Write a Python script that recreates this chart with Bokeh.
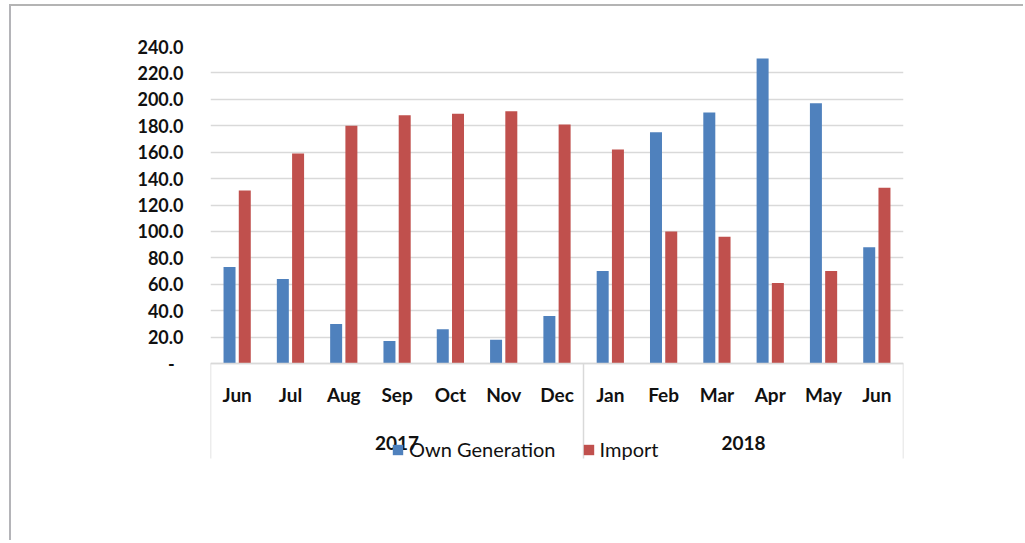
from bokeh.plotting import figure
from bokeh.models import (Range1d, FixedTicker, LinearAxis, CustomJSTickFormatter,
                          Legend, LegendItem, ColumnDataSource)
from bokeh.transform import dodge
from bokeh.embed import file_html
from bokeh.resources import INLINE

# ---- data ----
months = ["Jun", "Jul", "Aug", "Sep", "Oct", "Nov", "Dec",
          "Jan", "Feb", "Mar", "Apr", "May", "Jun"]
years = ["2017", "2018"]
year_month_counts = [7, 6]
own_generation = [73, 64, 30, 17, 26, 18, 36, 70, 175, 190, 231, 197, 88]
imports = [131, 159, 180, 188, 189, 191, 181, 162, 100, 96, 61, 70, 133]
y_ticks = [0, 20, 40, 60, 80, 100, 120, 140, 160, 180, 200, 220, 240]

BLUE = "#4F81BD"
RED = "#C0504D"
GRID = "#d9d9d9"
FONT = "Lato"
TXT = "#111111"

n = len(months)
x_pos = [i + 0.5 for i in range(n)]
src = ColumnDataSource(dict(x=x_pos, own=own_generation, imp=imports))

bounds = [0]
for c in year_month_counts:
    bounds.append(bounds[-1] + c)
year_centers = [(bounds[i] + bounds[i + 1]) / 2 for i in range(len(years))]

# frame extends below zero so the legend (drawn in the frame) can sit under the axis
p = figure(frame_width=693, frame_height=424,
           x_range=Range1d(0, n), y_range=Range1d(-81, 240),
           output_backend="svg", toolbar_location=None,
           min_border_left=199, min_border_top=40,
           min_border_right=120, min_border_bottom=70,
           x_axis_location=None, y_axis_location=None)
p.outline_line_color = None
p.background_fill_color = "white"
p.border_fill_color = "white"
p.styles = {"margin-left": "9px", "margin-top": "4px",
            "border-top": "2px solid #b4b4b4", "border-left": "2px solid #b4b4b8"}

bw = 0.225
r1 = p.vbar(x=dodge("x", -0.143), top="own", width=bw, source=src,
            fill_color=BLUE, line_color=None)
r2 = p.vbar(x=dodge("x", 0.143), top="imp", width=bw, source=src,
            fill_color=RED, line_color=None)

# y axis
yax = LinearAxis(ticker=FixedTicker(ticks=y_ticks, minor_ticks=[]),
                 formatter=CustomJSTickFormatter(
                     code="return tick == 0 ? '-\\u00a0\\u00a0' : tick.toFixed(1);"))
yax.axis_line_color = None
yax.major_tick_line_color = None
yax.minor_tick_line_color = None
yax.major_label_standoff = 21
yax.major_label_text_font = FONT
yax.major_label_text_font_style = "bold"
yax.major_label_text_font_size = "18px"
yax.major_label_text_color = TXT
p.add_layout(yax, "left")

p.ygrid.ticker = FixedTicker(ticks=y_ticks)
p.ygrid.grid_line_color = GRID
p.ygrid.grid_line_width = 1.5
p.xgrid.grid_line_color = None

# month axis at zero; group separators drawn as long outward minor ticks
mx = LinearAxis(ticker=FixedTicker(ticks=x_pos, minor_ticks=bounds),
                major_label_overrides={x: m for x, m in zip(x_pos, months)},
                fixed_location=0)
mx.axis_line_color = GRID
mx.axis_line_width = 1.5
mx.major_tick_line_color = None
mx.minor_tick_line_color = GRID
mx.minor_tick_line_width = 1.5
mx.minor_tick_in = -95
mx.minor_tick_out = 0
mx.major_label_standoff = 13
mx.major_label_text_font = FONT
mx.major_label_text_font_style = "bold"
mx.major_label_text_font_size = "19px"
mx.major_label_text_color = TXT
p.add_layout(mx, "below")

# year axis
yrax = LinearAxis(ticker=FixedTicker(ticks=year_centers, minor_ticks=[]),
                  major_label_overrides={c: y for c, y in zip(year_centers, years)},
                  fixed_location=-48.5)
yrax.axis_line_color = None
yrax.major_tick_line_color = None
yrax.minor_tick_line_color = None
yrax.major_label_standoff = 2
yrax.major_label_text_font = FONT
yrax.major_label_text_font_style = "bold"
yrax.major_label_text_font_size = "19px"
yrax.major_label_text_color = TXT
p.add_layout(yrax, "below")

legend = Legend(items=[LegendItem(label="Own Generation", renderers=[r1]),
                       LegendItem(label="Import", renderers=[r2])],
                location=(181, 9), orientation="horizontal",
                glyph_width=13, glyph_height=13, label_standoff=5, spacing=26,
                padding=0, margin=0, border_line_color=None,
                background_fill_alpha=0,
                label_text_font=FONT, label_text_font_size="20px",
                label_text_color=TXT)
p.add_layout(legend)

open("out.html", "w").write(file_html(p, INLINE))
